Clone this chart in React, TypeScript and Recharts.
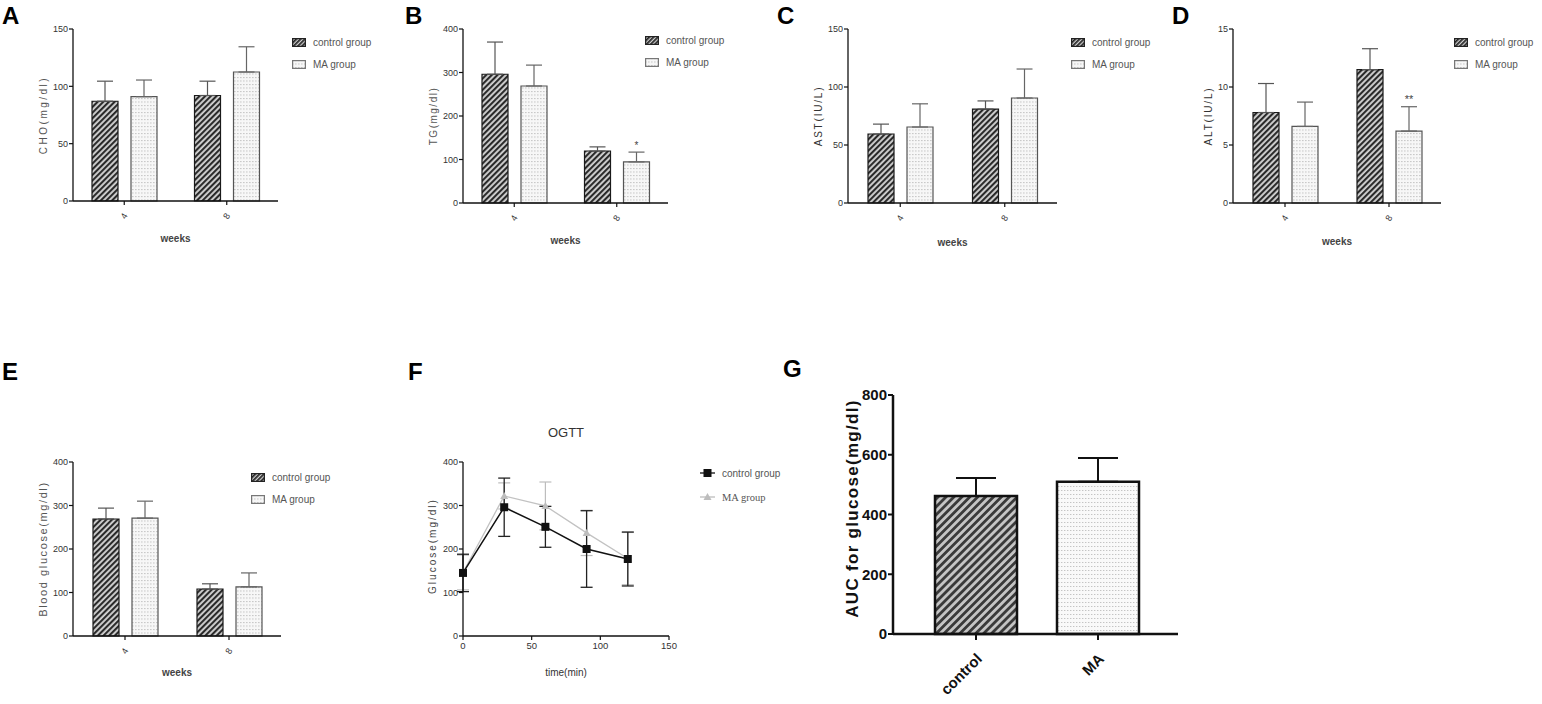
import React from 'react';
import { BarChart, Bar, XAxis, YAxis, ErrorBar, Legend, LabelList, LineChart, Line, Cell } from 'recharts';

const FONT = "'Liberation Sans', Arial, Helvetica, sans-serif";

// ---------- data ----------
const weeks = ['4', '8'];

const choControl = [87, 92];
const choControlErr = [17.5, 12.5];
const choMA = [91, 112.5];
const choMAErr = [14.5, 22];

const tgControl = [296, 119.5];
const tgControlErr = [74, 9.5];
const tgMA = [269, 94.5];
const tgMAErr = [48, 22.5];
const tgSig = ['', '*'];

const astControl = [59.5, 81];
const astControlErr = [8.5, 7];
const astMA = [65.5, 90.5];
const astMAErr = [20, 25];

const altControl = [7.8, 11.5];
const altControlErr = [2.5, 1.8];
const altMA = [6.6, 6.2];
const altMAErr = [2.1, 2.1];
const altSig = ['', '**'];

const bgControl = [269, 108];
const bgControlErr = [25, 12];
const bgMA = [271, 113];
const bgMAErr = [39, 32];

const noSig = ['', ''];

const ogttTime = [0, 30, 60, 90, 120];
const ogttControl = [145, 296, 251, 200, 177];
const ogttControlSd = [43, 67, 47, 88, 62];
const ogttMA = [146, 322, 299, 237, 178];
const ogttMASd = [40, 30, 55, 52, 60];

const aucGroups = ['control', 'MA'];
const aucMean = [462, 510];
const aucErr = [60, 79];

const ticks150 = [0, 50, 100, 150];
const ticks400 = [0, 100, 200, 300, 400];
const ticks15 = [0, 5, 10, 15];
const ticksTime = [0, 50, 100, 150];
const ticks800 = [0, 200, 400, 600, 800];

// ---------- shared pieces ----------
function Defs() {
  return (
    <svg width={0} height={0} style={{ position: 'absolute', left: 0, top: 0 }}>
      <defs>
        <pattern id="hatchS" patternUnits="userSpaceOnUse" width={4} height={4} patternTransform="rotate(45)">
          <rect width={4} height={4} fill="#d2d2d2" />
          <rect width={2.1} height={4} fill="#2a2a2a" />
        </pattern>
        <pattern id="hatchL" patternUnits="userSpaceOnUse" width={3} height={3} patternTransform="rotate(45)">
          <rect width={3} height={3} fill="#cfcfcf" />
          <rect width={1.7} height={3} fill="#222" />
        </pattern>
        <pattern id="dotS" patternUnits="userSpaceOnUse" width={3} height={3.5}>
          <rect width={3} height={3.5} fill="#f7f7f7" />
          <rect width={1.6} height={1} fill="#c6c6c6" />
        </pattern>
        <pattern id="hatchG" patternUnits="userSpaceOnUse" width={5.6} height={5.6} patternTransform="rotate(45)">
          <rect width={5.6} height={5.6} fill="#c4c4c4" />
          <rect width={2.8} height={5.6} fill="#3a3a3a" />
        </pattern>
        <pattern id="dotG" patternUnits="userSpaceOnUse" width={3} height={4}>
          <rect width={3} height={4} fill="#f9f9f9" />
          <rect width={1.4} height={1} fill="#c4c4c4" />
        </pattern>
      </defs>
    </svg>
  );
}

const rank = (e: any) => (e.dataKey === 'control' ? 0 : 1);

function BarLegendBox({ payload }: { payload?: any[] }) {
  const fallback = [
    { dataKey: 'control', value: 'control group' },
    { dataKey: 'ma', value: 'MA group' },
  ];
  const entries = payload && payload.length ? [...payload] : fallback;
  entries.sort((a: any, b: any) => rank(a) - rank(b));
  return (
    <div style={{ fontFamily: FONT, fontSize: 10, color: '#555' }}>
      {entries.map((e: any) => {
        const isC = e.dataKey === 'control';
        return (
          <div key={String(e.dataKey)} style={{ display: 'flex', alignItems: 'center', height: 22, whiteSpace: 'nowrap' }}>
            <svg width={14} height={9} style={{ marginRight: 7, flex: 'none' }}>
              <rect x={0.6} y={0.6} width={12.8} height={7.8} fill={isC ? 'url(#hatchL)' : 'url(#dotS)'} stroke={isC ? '#222' : '#777'} strokeWidth={1.2} />
            </svg>
            <span>{e.value}</span>
          </div>
        );
      })}
    </div>
  );
}

const WeekTick = (props: any) => {
  const { x, y, payload } = props;
  const cy = y + 9;
  return (
    <text x={x} y={cy} transform={`rotate(-60 ${x} ${cy})`} textAnchor="middle" dominantBaseline="central" fontSize={9} fill="#333">
      {payload.value}
    </text>
  );
};

type Plot = { l: number; t: number; b: number; r: number };

type GroupProps = {
  x0: number; y0: number; w: number; h: number; plot: Plot;
  control: number[]; controlErr: number[]; ma: number[]; maErr: number[]; sig: string[];
  domain: [number, number]; ticks: number[];
  yLabel: string; yLabelX: number; yLabelSize: number; yLabelColor: string; yLabelSpacing: number;
  weeksY: number; legendX: number; legendY: number; sigOffset: number; sigSize: number;
};

function GroupPanel(p: GroupProps) {
  const data = weeks.map((wk, i) => ({
    week: wk,
    control: p.control[i],
    controlErr: [0, p.controlErr[i]],
    ma: p.ma[i],
    maErr: [0, p.maErr[i]],
    sig: p.sig[i],
  }));
  const midY = (p.plot.t + p.plot.b) / 2;
  const midX = (p.plot.l + p.plot.r) / 2;
  return (
    <div style={{ position: 'absolute', left: p.x0, top: p.y0 }}>
      <BarChart
        width={p.w}
        height={p.h}
        data={data}
        margin={{ top: p.plot.t, right: p.w - p.plot.r, left: 0, bottom: 0 }}
        barSize={26}
        barGap={13}
      >
        <XAxis
          dataKey="week"
          height={p.h - p.plot.b}
          axisLine={{ stroke: '#111', strokeWidth: 1.3 }}
          tickLine={{ stroke: '#111', strokeWidth: 1.2 }}
          tickSize={4}
          tick={<WeekTick />}
          label={() => (
            <text x={midX} y={p.weeksY} textAnchor="middle" dominantBaseline="central" fontSize={10} fontWeight="bold" fill="#444">
              weeks
            </text>
          )}
        />
        <YAxis
          width={p.plot.l}
          domain={p.domain}
          ticks={p.ticks}
          interval={0}
          axisLine={{ stroke: '#111', strokeWidth: 1.3 }}
          tickLine={{ stroke: '#111', strokeWidth: 1.2 }}
          tickSize={4}
          tickMargin={1}
          tick={{ fontSize: 9, fill: '#333' }}
          label={() => (
            <text
              x={p.yLabelX}
              y={midY}
              transform={`rotate(-90 ${p.yLabelX} ${midY})`}
              textAnchor="middle"
              dominantBaseline="central"
              fontSize={p.yLabelSize}
              letterSpacing={p.yLabelSpacing}
              fill={p.yLabelColor}
            >
              {p.yLabel}
            </text>
          )}
        />
        <Legend
          verticalAlign="middle"
          align="center"
          layout="horizontal"
          wrapperStyle={{ left: p.legendX, top: p.legendY - 11, width: 130, height: 44 }}
          content={(lp: any) => <BarLegendBox payload={lp.payload} />}
        />
        <Bar dataKey="control" name="control group" fill="url(#hatchS)" stroke="#1a1a1a" strokeWidth={1.2} isAnimationActive={false}>
          <ErrorBar dataKey="controlErr" width={8} stroke="#555" strokeWidth={1.2} />
        </Bar>
        <Bar dataKey="ma" name="MA group" fill="url(#dotS)" stroke="#555" strokeWidth={1.2} isAnimationActive={false}>
          <ErrorBar dataKey="maErr" width={8} stroke="#666" strokeWidth={1.2} />
          <LabelList dataKey="sig" position="top" offset={p.sigOffset} fill="#444" fontSize={p.sigSize} />
        </Bar>
      </BarChart>
    </div>
  );
}

// ---------- OGTT line chart ----------
const SquareDot = (props: any) => {
  const { cx, cy, index } = props;
  if (cx == null || cy == null) return <g key={`sq-${index}`} />;
  return <rect key={`sq-${index}`} x={cx - 4} y={cy - 4} width={8} height={8} fill="#111" />;
};
const TriDot = (props: any) => {
  const { cx, cy, index } = props;
  if (cx == null || cy == null) return <g key={`tr-${index}`} />;
  return <polygon key={`tr-${index}`} points={`${cx},${cy - 4} ${cx + 4},${cy + 3} ${cx - 4},${cy + 3}`} fill="#bdbdbd" />;
};

function LineLegendBox({ payload }: { payload?: any[] }) {
  const fallback = [
    { dataKey: 'control', value: 'control group' },
    { dataKey: 'ma', value: 'MA group' },
  ];
  const list = payload && payload.length ? [...payload] : fallback;
  list.sort((a: any, b: any) => rank(a) - rank(b));
  return (
    <div style={{ fontSize: 10, color: '#555' }}>
      {list.map((e: any) => {
        const isC = e.dataKey === 'control';
        return (
          <div key={String(e.dataKey)} style={{ display: 'flex', alignItems: 'center', height: 24, whiteSpace: 'nowrap' }}>
            <svg width={15} height={10} style={{ marginRight: 7, flex: 'none' }}>
              <line x1={0} y1={5} x2={15} y2={5} stroke={isC ? '#111' : '#bdbdbd'} strokeWidth={1.3} />
              {isC ? (
                <rect x={3.5} y={1} width={8} height={8} fill="#111" />
              ) : (
                <polygon points="7.5,1 11.5,8 3.5,8" fill="#bdbdbd" />
              )}
            </svg>
            <span style={{ fontFamily: isC ? FONT : "'Liberation Serif', 'Times New Roman', serif", fontSize: isC ? 10 : 10.5 }}>{e.value}</span>
          </div>
        );
      })}
    </div>
  );
}

function OgttPanel() {
  const data = ogttTime.map((t, i) => ({
    t,
    control: ogttControl[i],
    controlSd: ogttControlSd[i],
    ma: ogttMA[i],
    maSd: ogttMASd[i],
  }));
  const plot = { l: 43, t: 92, b: 266, r: 249 };
  const w = 350;
  const h = 334;
  const midY = (plot.t + plot.b) / 2;
  const midX = (plot.l + plot.r) / 2;
  return (
    <div style={{ position: 'absolute', left: 420, top: 370 }}>
      <LineChart width={w} height={h} data={data} margin={{ top: plot.t, right: w - plot.r, left: 0, bottom: 0 }}>
        <XAxis
          type="number"
          dataKey="t"
          domain={[0, 150]}
          ticks={ticksTime}
          interval={0}
          height={h - plot.b}
          axisLine={{ stroke: '#111', strokeWidth: 1.3 }}
          tickLine={{ stroke: '#111', strokeWidth: 1.2 }}
          tickSize={4}
          tick={{ fontSize: 9.5, fill: '#333' }}
          label={() => (
            <text x={midX} y={302} textAnchor="middle" dominantBaseline="central" fontSize={10} fill="#333">
              time(min)
            </text>
          )}
        />
        <YAxis
          width={plot.l}
          domain={[0, 400]}
          ticks={ticks400}
          interval={0}
          axisLine={{ stroke: '#111', strokeWidth: 1.3 }}
          tickLine={{ stroke: '#111', strokeWidth: 1.2 }}
          tickSize={4}
          tickMargin={1}
          tick={{ fontSize: 9, fill: '#333' }}
          label={() => (
            <text x={12} y={midY - 3} transform={`rotate(-90 12 ${midY - 3})`} textAnchor="middle" dominantBaseline="central" fontSize={10} letterSpacing={2} fill="#444">
              Glucose(mg/dl)
            </text>
          )}
        />
        <Legend
          verticalAlign="middle"
          align="center"
          layout="horizontal"
          wrapperStyle={{ left: 280, top: 91, width: 130, height: 48 }}
          content={(lp: any) => <LineLegendBox payload={lp.payload} />}
        />
        <Line dataKey="ma" name="MA group" stroke="#c2c2c2" strokeWidth={1.3} dot={TriDot} activeDot={false} isAnimationActive={false}>
          <ErrorBar dataKey="maSd" width={6} stroke="#bdbdbd" strokeWidth={1.2} />
        </Line>
        <Line dataKey="control" name="control group" stroke="#111" strokeWidth={1.5} dot={SquareDot} activeDot={false} isAnimationActive={false}>
          <ErrorBar dataKey="controlSd" width={6} stroke="#222" strokeWidth={1.3} />
        </Line>
      </LineChart>
    </div>
  );
}

// ---------- AUC bar chart ----------
const GTick = (props: any) => {
  const { x, y, payload } = props;
  const ax = x + 3;
  const ay = y + 14;
  return (
    <text x={ax} y={ay} transform={`rotate(-45 ${ax} ${ay})`} textAnchor="end" dominantBaseline="central" fontSize={15} fontWeight="bold" fill="#111">
      {payload.value}
    </text>
  );
};

function AucPanel() {
  const data = aucGroups.map((g, i) => ({ name: g, v: aucMean[i], e: [0, aucErr[i]] }));
  const plot = { l: 123, t: 25, b: 264, r: 408 };
  const w = 420;
  const h = 334;
  const midY = (plot.t + plot.b) / 2;
  return (
    <div style={{ position: 'absolute', left: 770, top: 370 }}>
      <BarChart width={w} height={h} data={data} margin={{ top: plot.t, right: w - plot.r, left: 0, bottom: 0 }} barSize={82}>
        <XAxis
          dataKey="name"
          padding={{ left: 22, right: 19 }}
          height={h - plot.b}
          axisLine={{ stroke: '#111', strokeWidth: 2.5 }}
          tickLine={{ stroke: '#111', strokeWidth: 2 }}
          tickSize={6}
          tick={<GTick />}
        />
        <YAxis
          width={plot.l}
          domain={[0, 800]}
          ticks={ticks800}
          interval={0}
          axisLine={{ stroke: '#111', strokeWidth: 2.5 }}
          tickLine={{ stroke: '#111', strokeWidth: 2 }}
          tickSize={5}
          tickMargin={1}
          tick={{ fontSize: 15, fill: '#111', fontWeight: 'bold', fontFamily: "'Liberation Sans Narrow', 'Liberation Sans', Arial, sans-serif" }}
          label={() => (
            <text x={82} y={midY - 6} transform={`rotate(-90 82 ${midY - 6})`} textAnchor="middle" dominantBaseline="central" fontSize={17} letterSpacing={1.3} fontWeight="bold" fill="#111">
              AUC for glucose(mg/dl)
            </text>
          )}
        />
        <Bar dataKey="v" stroke="#111" strokeWidth={2.5} isAnimationActive={false}>
          <Cell key="c0" fill="url(#hatchG)" />
          <Cell key="c1" fill="url(#dotG)" />
          <ErrorBar dataKey="e" width={20} stroke="#111" strokeWidth={2} />
        </Bar>
      </BarChart>
    </div>
  );
}

function Letter({ ch, x, y }: { ch: string; x: number; y: number }) {
  return (
    <div style={{ position: 'absolute', left: x, top: y, fontSize: 24, lineHeight: '24px', fontWeight: 'bold', color: '#000', fontFamily: FONT }}>
      {ch}
    </div>
  );
}

export default function App() {
  return (
    <div style={{ position: 'absolute', left: 0, top: 0, width: 1542, height: 704, background: '#fff', fontFamily: FONT, overflow: 'hidden' }}>
      <Defs />
      <Letter ch="A" x={2} y={4} />
      <Letter ch="B" x={405} y={4} />
      <Letter ch="C" x={777} y={4} />
      <Letter ch="D" x={1172} y={4} />
      <Letter ch="E" x={2} y={360} />
      <Letter ch="F" x={408} y={360} />
      <Letter ch="G" x={783} y={357} />

      <GroupPanel
        x0={0} y0={0} w={390} h={260} plot={{ l: 73, t: 29, b: 201, r: 278 }}
        control={choControl} controlErr={choControlErr} ma={choMA} maErr={choMAErr} sig={noSig}
        domain={[0, 150]} ticks={ticks150}
        yLabel="CHO(mg/dl)" yLabelX={43} yLabelSize={10} yLabelSpacing={2.5} yLabelColor="#555"
        weeksY={238} legendX={292} legendY={42} sigOffset={13} sigSize={10}
      />
      <GroupPanel
        x0={390} y0={0} w={390} h={260} plot={{ l: 73, t: 29, b: 203, r: 278 }}
        control={tgControl} controlErr={tgControlErr} ma={tgMA} maErr={tgMAErr} sig={tgSig}
        domain={[0, 400]} ticks={ticks400}
        yLabel="TG(mg/dl)" yLabelX={43} yLabelSize={10} yLabelSpacing={1.5} yLabelColor="#555"
        weeksY={240} legendX={255} legendY={40} sigOffset={13} sigSize={10}
      />
      <GroupPanel
        x0={780} y0={0} w={390} h={260} plot={{ l: 68, t: 29, b: 203, r: 277 }}
        control={astControl} controlErr={astControlErr} ma={astMA} maErr={astMAErr} sig={noSig}
        domain={[0, 150]} ticks={ticks150}
        yLabel="AST(IU/L)" yLabelX={38} yLabelSize={10} yLabelSpacing={1.8} yLabelColor="#333"
        weeksY={242} legendX={291} legendY={42} sigOffset={13} sigSize={10}
      />
      <GroupPanel
        x0={1170} y0={0} w={372} h={260} plot={{ l: 63, t: 29, b: 203, r: 271 }}
        control={altControl} controlErr={altControlErr} ma={altMA} maErr={altMAErr} sig={altSig}
        domain={[0, 15]} ticks={ticks15}
        yLabel="ALT(IU/L)" yLabelX={38} yLabelSize={10} yLabelSpacing={1.8} yLabelColor="#333"
        weeksY={241} legendX={284} legendY={42} sigOffset={28} sigSize={11}
      />
      <GroupPanel
        x0={0} y0={370} w={400} h={334} plot={{ l: 73, t: 92, b: 266, r: 281 }}
        control={bgControl} controlErr={bgControlErr} ma={bgMA} maErr={bgMAErr} sig={noSig}
        domain={[0, 400]} ticks={ticks400}
        yLabel="Blood glucose(mg/dl)" yLabelX={43} yLabelSize={11} yLabelSpacing={1.6} yLabelColor="#555"
        weeksY={302} legendX={251} legendY={107} sigOffset={13} sigSize={10}
      />

      <div style={{ position: 'absolute', left: 526, top: 425, width: 80, textAlign: 'center', fontSize: 13, lineHeight: '16px', color: '#333' }}>
        OGTT
      </div>
      <OgttPanel />
      <AucPanel />
    </div>
  );
}
